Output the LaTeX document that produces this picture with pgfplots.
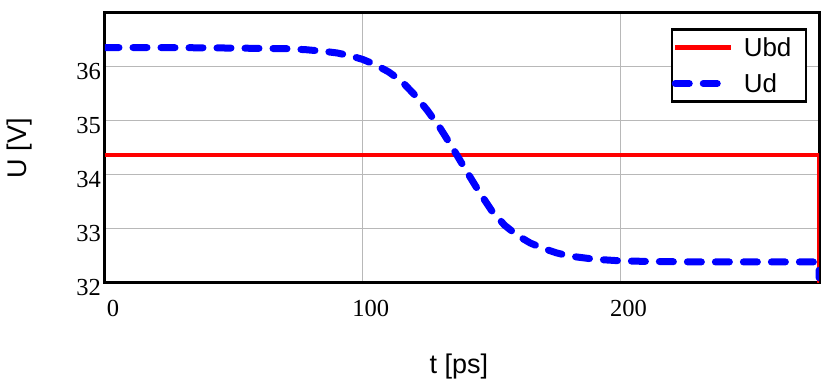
\documentclass[border=0pt]{standalone}
\usepackage{fontspec}
\setmainfont{Liberation Serif}
\newfontfamily\arial{Liberation Sans}
\usepackage{pgfplots}
\pgfplotsset{compat=1.18}
\begin{document}
\begin{tikzpicture}
\begin{axis}[name=ax, scale only axis, width=714pt, height=270pt,
 xmin=0, xmax=277, ymin=32, ymax=37,
 xtick={0,100,200}, ytick={32,33,34,35,36},
 /pgf/number format/assume math mode=true,
 grid=major, major grid style={draw=black!28, line width=1pt},
 major tick length=0pt,
 axis line style={line width=3pt},
 tick label style={font=\fontsize{24.5}{28}\selectfont, inner sep=0pt},
 xticklabel style={anchor=north, xshift=8pt, yshift=-17pt},
 yticklabel style={anchor=east, xshift=-4pt, yshift=-4.5pt},
 legend style={at={(axis description cs:0.9832,0.9433)}, anchor=north east,
   draw=black, line width=2.5pt, fill=white, inner xsep=0pt, inner ysep=0pt,
   row sep=0pt, column sep=9pt, font=\arial\fontsize{26}{30}\selectfont,
   nodes={inner sep=0pt, text width=62pt, minimum height=36pt},
   cells={anchor=west}},
 legend image code/.code={\draw[#1] (0pt,0pt) -- (56pt,0pt);},
]
\addplot[red, line width=4.5pt] coordinates {(0,34.37) (277,34.37) (277,31.9)};
\addlegendentry{Ubd}
\addplot[blue, line width=7pt, dash pattern=on 14pt off 14pt, line cap=round] coordinates {
(0,36.36) (20,36.36) (40,36.355) (50,36.35) (60,36.345) (70,36.34) (78,36.32)
(85,36.29) (90,36.26) (95,36.21) (100,36.14) (105,36.04) (110,35.91) (115,35.74)
(120,35.49) (125,35.20) (130,34.87) (135,34.49) (140,34.09) (145,33.70) (150,33.34)
(155,33.07) (160,32.88) (165,32.74) (170,32.64) (175,32.56) (180,32.50) (190,32.44)
(200,32.41) (210,32.40) (230,32.39) (277,32.39) (277,32.1)};
\addlegendentry{Ud}
\end{axis}
\node[rotate=90, font=\arial\fontsize{27}{30}\selectfont] at ([xshift=-85pt]ax.west) {U [V]};
\node[font=\arial\fontsize{27}{30}\selectfont] at ([xshift=-3pt,yshift=-84pt]ax.south) {t [ps]};
\path ([xshift=-105pt,yshift=-102pt]ax.south west) rectangle ([xshift=12pt,yshift=13pt]ax.north east);
\end{tikzpicture}
\end{document}
